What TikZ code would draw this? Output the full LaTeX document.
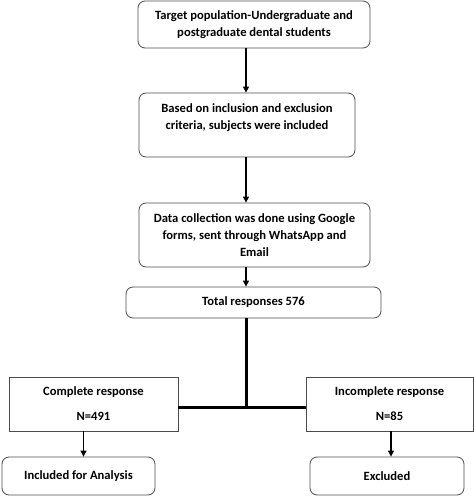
\documentclass[tikz,border=0pt]{standalone}
\usepackage{fontspec}
\setmainfont{Carlito}
\usetikzlibrary{calc}
\usetikzlibrary{arrows.meta}

\tikzset{
  box/.style={draw=black!70, line width=0.8pt, rounded corners=7pt, align=center,
    font=\fontsize{12.6}{17}\selectfont\bfseries, inner sep=2pt},
  sqbox/.style={box, rounded corners=0pt},
  arr/.style={line width=1.3pt, -{Triangle[length=6pt,width=6pt]}},
  trunk/.style={line width=3pt}
}

\begin{document}
\begin{tikzpicture}[x=1pt,y=-1pt]

\useasboundingbox (0,0) rectangle (474,496);

\node[box, minimum width=232, minimum height=47] (target) at (254,24.5)
  {Target population-Undergraduate and\\postgraduate dental students};
\node[box, minimum width=216, minimum height=64, text depth=16pt] (criteria) at (247,125)
  {Based on inclusion and exclusion\\criteria, subjects were included};
\node[box, minimum width=231, minimum height=64] (collect) at (254.5,235)
  {Data collection was done using Google\\forms, sent through WhatsApp and\\Email};
\node[box, minimum width=255, minimum height=31] (total) at (253.5,302.5)
  {Total responses 576};
\node[sqbox, minimum width=169, minimum height=54] (complete) at (93.5,404)
  {Complete response\\[8pt]N=491};
\node[sqbox, minimum width=167, minimum height=54] (incomplete) at (389.5,404)
  {Incomplete response\\[8pt]N=85};
\node[box, minimum width=153, minimum height=38] (analysis) at (78.5,476)
  {Included for Analysis};
\node[box, minimum width=154, minimum height=38] (excluded) at (387,476)
  {Excluded};

\coordinate (spine) at (246,0);
\coordinate (join) at (246,407);

\draw[arr] (target.south -| spine) -- (criteria.north -| spine);
\draw[arr] (criteria.south -| spine) -- (collect.north -| spine);
\draw[arr] (collect.south -| spine) -- (total.north -| spine);

\draw[trunk] (total.south -| spine) -- (join);
\draw[trunk] (join -| complete.east) -- (join -| incomplete.west);

\draw[arr] ([xshift=-10pt]complete.south) -- ([xshift=-10pt]complete.south |- analysis.north);
\draw[arr] ([xshift=1.5pt]incomplete.south) -- ([xshift=1.5pt]incomplete.south |- excluded.north);

\end{tikzpicture}
\end{document}
